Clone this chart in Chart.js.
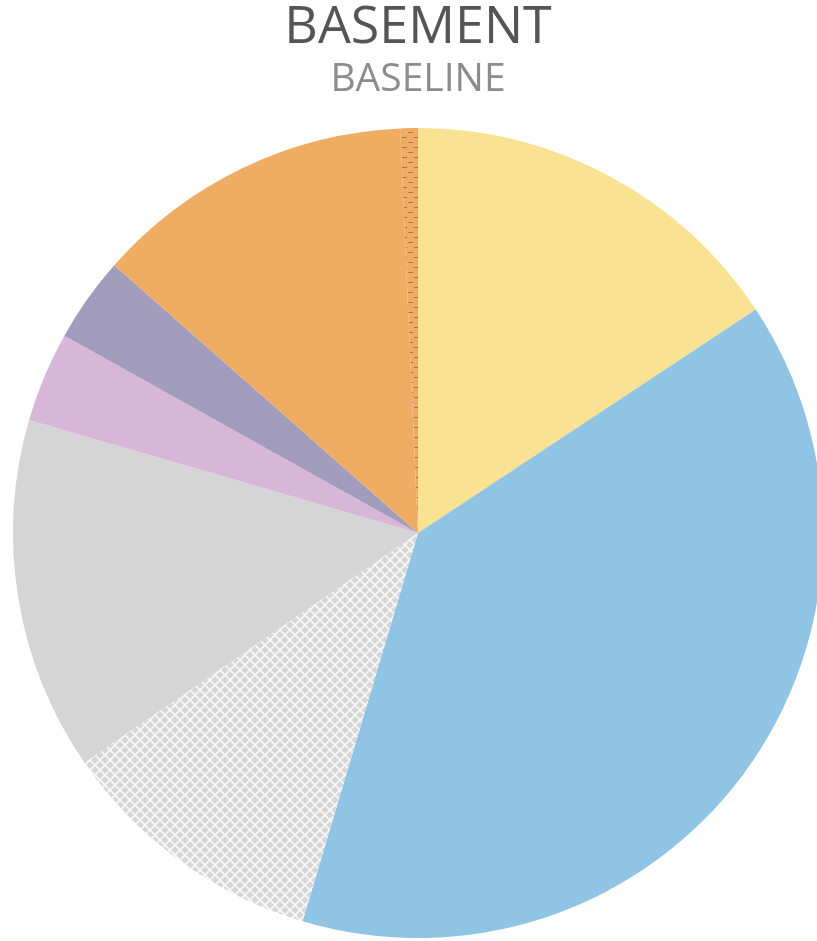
<!DOCTYPE html>
<html lang="en">
  <head>
    <meta charset="UTF-8" />
    <title>Basement baseline</title>
    <script src="https://cdn.jsdelivr.net/npm/chart.js"></script>
    <style>
      html, body { margin: 0; padding: 0; overflow: hidden; background: #fff; }
      #wrap { width: 823px; height: 941px; }
    </style>
  </head>
  <body>
    <div id="wrap"><canvas id="pie-chart"></canvas></div>

    <script>
      // slices, clockwise from 12 o'clock (percent of total)
      const categories = ['A', 'B', 'C', 'D', 'E', 'F', 'G', 'H'];
      const shares = [15.7, 38.9, 10.8, 14.1, 3.6, 3.4, 12.8, 0.7];
      const sliceColors = ['#F9E292', '#8FC4E4', '#D5D6D5', '#D4D5D4', '#D8B6D7', '#A29CBC', '#EFAC63', '#EFAC63'];

      // crosshatch fill (white diagonal lines on grey)
      function crossHatch(bg) {
        const c = document.createElement('canvas');
        c.width = 10; c.height = 10;
        const g = c.getContext('2d');
        g.fillStyle = bg;
        g.fillRect(0, 0, 10, 10);
        g.strokeStyle = '#F7F7F7';
        g.lineWidth = 1.8;
        g.beginPath();
        g.moveTo(-1, -1); g.lineTo(11, 11);
        g.moveTo(11, -1); g.lineTo(-1, 11);
        g.stroke();
        return g.createPattern(c, 'repeat');
      }

      // short dark dashes on orange
      function dashes(bg) {
        const c = document.createElement('canvas');
        c.width = 12; c.height = 10;
        const g = c.getContext('2d');
        g.fillStyle = bg;
        g.fillRect(0, 0, 12, 10);
        g.strokeStyle = '#A8764A';
        g.lineWidth = 1.2;
        g.beginPath();
        g.moveTo(0, 2.5); g.lineTo(5, 2.5);
        g.moveTo(6, 7.5); g.lineTo(11, 7.5);
        g.stroke();
        return g.createPattern(c, 'repeat');
      }

      const fills = sliceColors.slice();
      fills[2] = crossHatch(sliceColors[2]);
      fills[7] = dashes(sliceColors[7]);

      const chart = new Chart(document.getElementById('pie-chart'), {
        type: 'pie',
        data: {
          labels: categories,
          datasets: [{
            data: shares,
            backgroundColor: fills,
            borderWidth: 0
          }]
        },
        options: {
          responsive: true,
          maintainAspectRatio: false,
          animation: false,
          layout: { padding: { left: 13, right: 0, top: 0, bottom: 3 } },
          plugins: {
            legend: { display: false },
            tooltip: { enabled: false },
            title: {
              display: true,
              text: 'BASEMENT',
              color: '#555555',
              font: { family: 'Open Sans', size: 52, weight: 'normal', lineHeight: 1 },
              padding: { top: 2, bottom: 2 }
            },
            subtitle: {
              display: true,
              text: 'BASELINE',
              color: '#8C8C8E',
              font: { family: 'Open Sans', size: 39, weight: 'normal', lineHeight: 1 },
              padding: { top: 4, bottom: 29 }
            }
          }
        }
      });
    </script>
  </body>
</html>
